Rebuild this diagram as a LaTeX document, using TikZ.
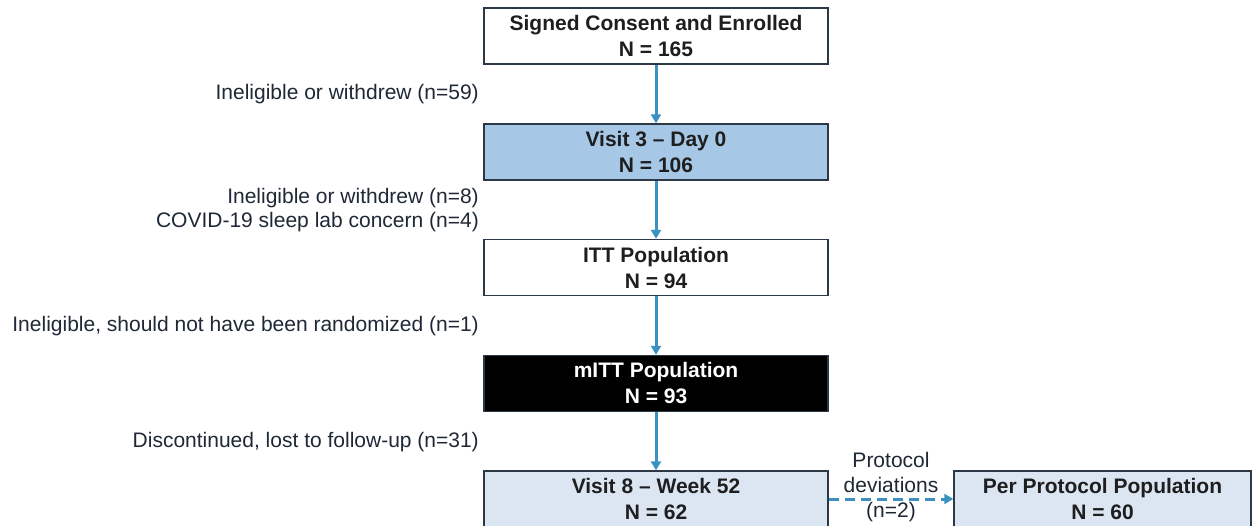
\documentclass[tikz,border=0pt]{standalone}
\usepackage{fontspec}
\setmainfont{Liberation Sans}
\usepackage{tikz}
\usetikzlibrary{arrows.meta,positioning}
\definecolor{flowblue}{RGB}{58,145,194}
\definecolor{boxline}{RGB}{44,56,70}
\definecolor{boxtext}{RGB}{30,30,30}
\definecolor{lbltext}{RGB}{30,40,54}
\definecolor{visitblue}{RGB}{166,200,230}
\definecolor{paleblue}{RGB}{220,230,243}

\begin{document}
\begin{tikzpicture}[x=1pt, y=-1pt,
    stagebox/.style={draw=boxline, line width=1.4pt, minimum width=344pt, minimum height=56pt,
      inner sep=0pt, align=center, text=boxtext, font=\fontsize{21}{26}\selectfont\bfseries},
    droplabel/.style={anchor=east, align=right, inner sep=0pt, text=lbltext, font=\fontsize{21}{24}\selectfont},
    flow/.style={draw=flowblue, line width=3pt, -{Triangle[length=9pt, width=10pt]}}]
  \useasboundingbox (0,0) rectangle (1252,525);

  % Boxes
  \node[stagebox, fill=white] (enrolled) at (656,36) {Signed Consent and Enrolled\\N = 165};
  \node[stagebox, fill=visitblue] (visit3) at (656,152) {Visit 3 -- Day 0\\N = 106};
  \node[stagebox, fill=white] (itt) at (656,267.5) {ITT Population\\N = 94};
  \node[stagebox, fill=black, text=white] (mitt) at (656,383.5) {mITT Population\\N = 93};
  \node[stagebox, fill=paleblue] (visit8) at (656,499) {Visit 8 -- Week 52\\N = 62};
  \node[stagebox, fill=paleblue, minimum width=297pt] (perprot) at (1102.5,499) {Per Protocol Population\\N = 60};

  % Exclusions
  \node[droplabel] (drop1) at (479,94) {Ineligible or withdrew (n=59)};
  \node[droplabel] (drop2) at (479,210) {Ineligible or withdrew (n=8)\\COVID-19 sleep lab concern (n=4)};
  \node[droplabel] (drop3) at (479,326) {Ineligible, should not have been randomized (n=1)};
  \node[droplabel] (drop4) at (479,442) {Discontinued, lost to follow-up (n=31)};

  % Arrows
  \draw[flow] (enrolled) -- (visit3);
  \draw[flow] (visit3) -- (itt);
  \draw[flow] (itt) -- (mitt);
  \draw[flow] (mitt) -- (visit8);
  \draw[flow, dash pattern=on 10pt off 6pt] (visit8) -- (perprot);
  \node[align=center, inner sep=0pt, text=lbltext, font=\fontsize{21}{25}\selectfont] (pdlabel) at (891,487) {Protocol\\deviations\\(n=2)};
\end{tikzpicture}
\end{document}
